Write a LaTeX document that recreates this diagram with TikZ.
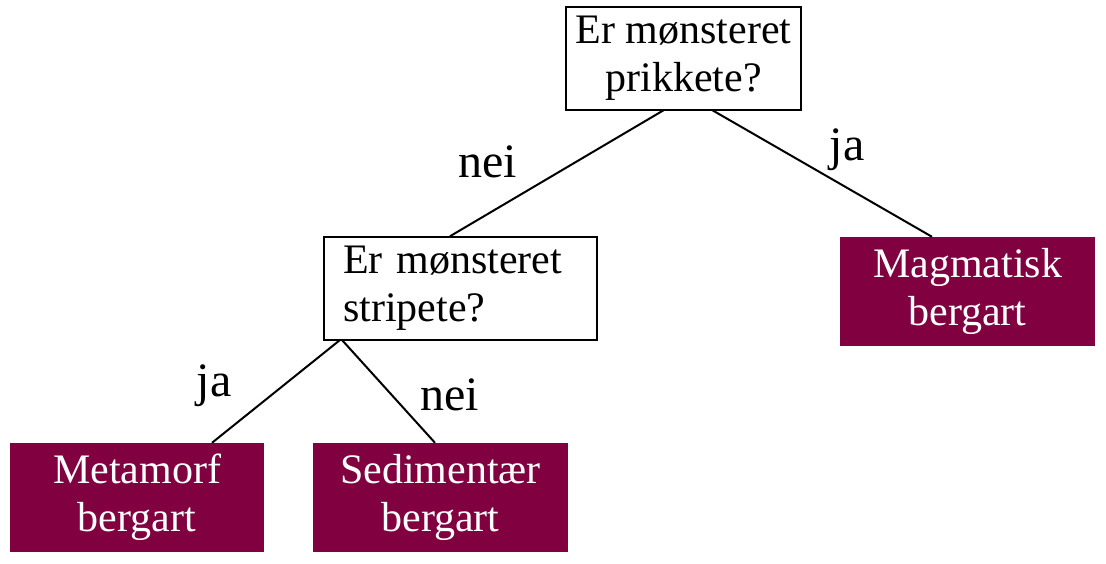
\documentclass[tikz,border=0pt]{standalone}
\usepackage{fontspec}
\setmainfont{Liberation Serif}
\definecolor{maroon}{RGB}{128,0,64}
\begin{document}
\begin{tikzpicture}[x=1pt,y=-1pt,
  qbox/.style={draw=black, line width=1.5pt, fill=white, inner sep=0pt,
    font=\fontsize{42}{48}\selectfont},
  leaf/.style={fill=maroon, text=white, inner sep=0pt,
    font=\fontsize{42}{48}\selectfont, align=center},
  edge/.style={line width=2pt, black},
  lbl/.style={font=\fontsize{48}{56}\selectfont, inner sep=0pt}]
\useasboundingbox (0,0) rectangle (1106,564);
\node[qbox, minimum width=235, minimum height=103, align=center] (q1) at (683.5,58.5) {Er mønsteret\\prikkete?};
\node[qbox, minimum width=273, minimum height=103, align=left, text width=235] (q2) at (460.5,288.5) {Er mønsteret\\stripete?};
\node[leaf, minimum width=255, minimum height=109] (mag) at (967.5,291.5) {Magmatisk\\bergart};
\node[leaf, minimum width=254, minimum height=109] (met) at (137,497.5) {Metamorf\\bergart};
\node[leaf, minimum width=255, minimum height=109] (sed) at (440.5,497.5) {Sedimentær\\bergart};
\coordinate (q1a) at (664,110);
\coordinate (q1b) at (712,110);
\coordinate (q2a) at (340,340);
\coordinate (q2b) at (342,340);
\draw[edge] (q1a) -- (q2.north -| 450,0);
\draw[edge] (q1b) -- (mag.north -| 932,0);
\draw[edge] (q2a) -- (met.north -| 212,0);
\draw[edge] (q2b) -- (sed.north -| 435,0);
\node[lbl] (l1) at (488,162) {nei};
\node[lbl] (l2) at (847,150) {ja};
\node[lbl] (l3) at (214,386) {ja};
\node[lbl] (l4) at (450,395) {nei};
\end{tikzpicture}
\end{document}
